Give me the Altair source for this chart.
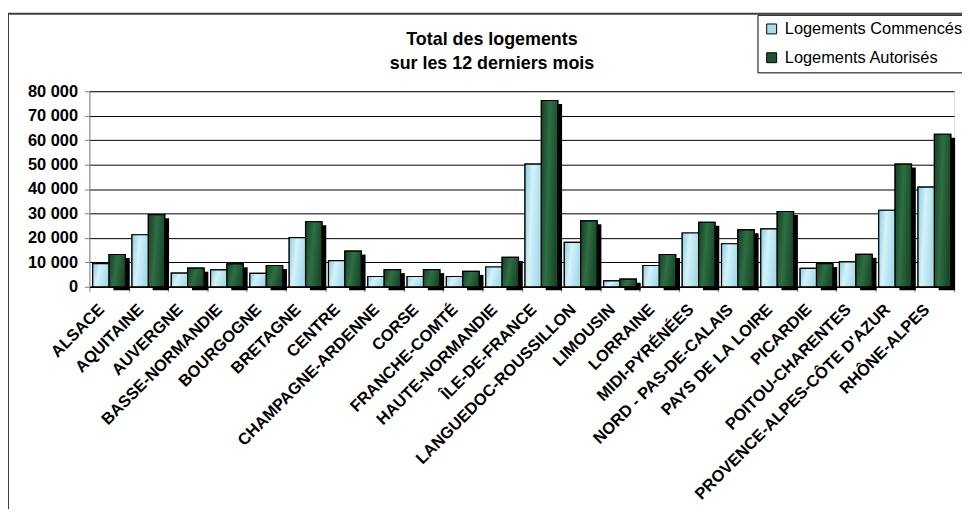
import altair as alt
import pandas as pd

regions = ["ALSACE", "AQUITAINE", "AUVERGNE", "BASSE-NORMANDIE", "BOURGOGNE", "BRETAGNE",
           "CENTRE", "CHAMPAGNE-ARDENNE", "CORSE", "FRANCHE-COMTÉ", "HAUTE-NORMANDIE",
           "ÎLE-DE-FRANCE", "LANGUEDOC-ROUSSILLON", "LIMOUSIN", "LORRAINE", "MIDI-PYRÉNÉES",
           "NORD - PAS-DE-CALAIS", "PAYS DE LA LOIRE", "PICARDIE", "POITOU-CHARENTES",
           "PROVENCE-ALPES-CÔTE D'AZUR", "RHÔNE-ALPES"]
commences = [9500, 21300, 5600, 6900, 5500, 20100, 10700, 4200, 4200, 4200, 8100,
             50200, 18200, 2400, 8700, 22000, 17600, 23700, 7500, 10200, 31300, 40800]
autorises = [13200, 29500, 7600, 9400, 8700, 26600, 14600, 7000, 7000, 6300, 12000,
             76200, 27000, 3100, 13200, 26400, 23300, 30800, 9500, 13300, 50200, 62400]
series = ["Logements Commencés", "Logements Autorisés"]
title_lines = ["Total des logements", "sur les 12 derniers mois"]
y_ticks = [0, 10000, 20000, 30000, 40000, 50000, 60000, 70000, 80000]

rows = []
for r, c, a in zip(regions, commences, autorises):
    rows.append({"region": r, "serie": series[0], "value": c})
    rows.append({"region": r, "serie": series[1], "value": a})
df = pd.DataFrame(rows)

FONT = "Liberation Sans"

x_enc = alt.X("region:N", sort=regions, title=None,
              scale=alt.Scale(paddingInner=0, paddingOuter=0),
              axis=alt.Axis(labelAngle=-45, labelAlign="right", labelBaseline="middle",
                            labelFont=FONT, labelFontWeight="bold", labelFontSize=16.5,
                            labelColor="black", labelPadding=15, labelOffset=-8,
                            tickBand="extent", labelLimit=0,
                            tickColor="#808080", tickSize=5, domainColor="black",
                            domainWidth=1.5, grid=False, labelOverlap=False))
xo_enc = alt.XOffset("serie:N", sort=series, scale=alt.Scale(paddingOuter=0.2, paddingInner=0))
y_enc = alt.Y("value:Q", title=None,
              scale=alt.Scale(domain=[0, 80000]),
              axis=alt.Axis(values=y_ticks, labelOverlap=False,
                            format=",d", labelExpr="replace(datum.label, ',', ' ')",
                            labelFont=FONT, labelFontWeight="bold", labelFontSize=16.5,
                            labelColor="black", labelPadding=7, tickColor="#808080",
                            tickSize=5, domainColor="#808080", grid=True,
                            gridColor="black", gridWidth=1))

base = alt.Chart(df)

shadow = base.transform_filter(alt.datum.serie == series[1]).mark_bar(
    color="black", width=16.5, xOffset=12.6, yOffset=3.5, y2Offset=-3.5
).encode(x=x_enc, y=y_enc)

bars = base.mark_bar(stroke="black", strokeWidth=1.2).encode(
    x=x_enc, xOffset=xo_enc, y=y_enc,
    color=alt.Color("serie:N", sort=series, title=None,
                    scale=alt.Scale(domain=series, range=["#A8DCEA", "#1D5430"]),
                    legend=alt.Legend(orient="none", legendX=673, legendY=-77,
                                      strokeColor="black", fillColor="white",
                                      padding=6, labelFont=FONT, labelFontSize=16.5,
                                      labelColor="black", symbolType="square",
                                      symbolSize=100, symbolStrokeColor="black",
                                      symbolStrokeWidth=1, rowPadding=12,
                                      labelOffset=5, labelLimit=400))
)

light_grad = alt.LinearGradient(gradient="linear", x1=0, x2=1, y1=0, y2=0.3, stops=[
    alt.GradientStop(color="#86CCE0", offset=0),
    alt.GradientStop(color="#D6F2F8", offset=0.45),
    alt.GradientStop(color="#A4DCEA", offset=1)])
dark_grad = alt.LinearGradient(gradient="linear", x1=0, x2=1, y1=0, y2=0.3, stops=[
    alt.GradientStop(color="#153F22", offset=0),
    alt.GradientStop(color="#2F6E44", offset=0.5),
    alt.GradientStop(color="#184A2A", offset=1)])

light = base.transform_filter(alt.datum.serie == series[0]).mark_bar(
    color=light_grad, stroke="black", strokeWidth=1.2
).encode(x=x_enc, xOffset=xo_enc, y=y_enc)
dark = base.transform_filter(alt.datum.serie == series[1]).mark_bar(
    color=dark_grad, stroke="black", strokeWidth=1.2
).encode(x=x_enc, xOffset=xo_enc, y=y_enc)

one = pd.DataFrame({"f": [0]})
frame = alt.Chart(one).mark_rect(
    fill="transparent", stroke="#404040", strokeWidth=2
).encode(x=alt.value(-82), x2=alt.value(950), y=alt.value(-78), y2=alt.value(600))

title = alt.Chart(one).mark_text(
    text=title_lines, font=FONT, fontSize=18, fontWeight="bold", color="black",
    align="center", baseline="alphabetic", lineHeight=24
).encode(x=alt.value(405.5), y=alt.value(-46.5))

chart = alt.layer(frame, title, shadow, bars, light, dark).properties(
    width=871, height=197,
    autosize=alt.AutoSizeParams(type="none"),
    padding={"left": 82, "top": 82, "right": 8, "bottom": 222}
).configure_view(fill="#FFCC99", stroke="#A0A0A0", strokeWidth=1.5
).configure(background="white")

chart.save("out.html", embed_options={"renderer": "svg", "actions": False})
